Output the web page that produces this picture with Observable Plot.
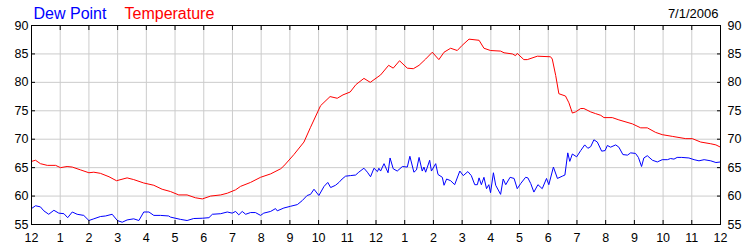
<!DOCTYPE html>
<html>
<head>
<meta charset="utf-8">
<script src="https://cdn.jsdelivr.net/npm/d3@7"></script>
<script src="https://cdn.jsdelivr.net/npm/@observablehq/plot@0.6"></script>
<style>
  html, body { margin: 0; padding: 0; background: #fff; }
  #chart svg { display: block; }
</style>
</head>
<body>
<div id="chart"></div>
<script>
// Hours after midnight (0..24) and values
const tempHours = [0,0.14,0.31,0.55,0.84,1.01,1.24,1.42,1.71,2.0,2.17,2.4,2.7,2.96,3.33,3.56,3.91,4.26,4.55,4.84,5.13,5.42,5.71,5.95,6.24,6.59,6.82,7.11,7.28,7.63,7.98,8.33,8.68,8.79,9.14,9.49,9.72,10.07,10.4,10.65,10.85,11.1,11.3,11.58,11.8,12.16,12.44,12.6,12.82,13.09,13.3,13.5,13.73,13.96,14.19,14.37,14.6,14.83,15.0,15.24,15.59,15.76,15.99,16.34,16.46,16.75,16.86,16.92,17.15,17.27,17.62,18.08,18.14,18.26,18.37,18.6,18.72,18.84,18.95,19.13,19.24,19.48,19.65,19.83,19.94,20.23,20.46,20.93,21.22,21.45,21.74,21.97,22.32,22.79,23.02,23.31,23.66,23.84,24];
const temperature = [66.1,66.3,65.7,65.4,65.4,65.0,65.2,65.1,64.6,64.1,64.2,64.0,63.4,62.7,63.2,62.9,62.3,61.9,61.2,60.8,60.2,60.2,59.7,59.5,60.0,60.2,60.5,61.1,61.7,62.4,63.3,63.9,64.8,65.3,67.3,69.5,72.1,75.9,77.5,77.2,77.8,78.3,79.6,80.7,80.0,81.3,83.0,82.5,83.8,82.5,82.4,83.0,84.1,85.3,84.0,85.3,86.0,85.6,86.5,87.6,87.4,86.0,85.6,85.5,85.2,85.0,84.7,85.1,84.0,84.0,84.6,84.5,84.1,81.2,78.0,77.6,76.4,74.6,74.8,75.4,75.4,74.8,74.5,74.2,73.8,73.8,73.4,72.7,72.0,72.0,71.2,70.8,70.5,70.1,70.1,69.5,69.2,69.0,68.6];

const dewHours = [0,0.14,0.31,0.43,0.6,0.78,0.95,1.13,1.26,1.42,1.59,1.82,2.0,2.17,2.4,2.58,2.81,2.99,3.16,3.33,3.56,3.74,3.91,4.09,4.26,4.49,4.78,4.84,5.19,5.42,5.65,5.95,6.18,6.3,6.59,6.82,6.99,7.11,7.22,7.34,7.46,7.63,7.8,7.98,8.09,8.33,8.5,8.56,8.79,9.02,9.26,9.43,9.6,9.72,9.84,10.01,10.19,10.32,10.42,10.59,10.71,10.82,10.94,11.11,11.29,11.4,11.58,11.7,11.81,11.93,12.05,12.1,12.16,12.28,12.42,12.49,12.6,12.74,12.92,13.09,13.18,13.32,13.41,13.5,13.61,13.67,13.73,13.87,13.93,14.08,14.16,14.31,14.37,14.46,14.6,14.74,14.92,15.04,15.2,15.32,15.44,15.53,15.59,15.67,15.76,15.85,15.93,15.99,16.09,16.17,16.34,16.43,16.52,16.67,16.81,16.92,17.04,17.21,17.29,17.39,17.5,17.64,17.79,17.94,18.02,18.18,18.32,18.49,18.58,18.68,18.75,18.84,18.99,19.13,19.27,19.38,19.48,19.59,19.71,19.86,19.98,20.06,20.17,20.35,20.46,20.6,20.76,20.87,21.04,21.14,21.25,21.33,21.45,21.63,21.8,21.97,22.15,22.26,22.38,22.49,22.65,22.9,23.08,23.25,23.43,23.66,23.84,24];
const dewPoint = [57.8,58.3,58.1,57.4,56.8,57.5,57.0,56.9,56.2,57.2,56.8,56.6,55.7,56.0,56.4,56.5,56.8,55.7,55.4,55.8,56.0,55.7,57.2,57.2,56.6,56.6,56.5,56.3,55.9,55.7,56.05,56.1,56.2,56.8,56.9,57.2,57.0,57.3,56.7,57.3,56.8,57.1,57.1,56.6,57.0,57.3,57.8,57.4,57.9,58.2,58.5,59.2,60.1,60.3,61.2,60.1,61.7,62.4,61.5,61.9,62.4,63.0,63.5,63.6,63.7,64.2,64.9,64.2,63.4,64.9,64.3,64.9,64.4,65.7,64.1,66.7,64.8,64.4,65.2,65.1,67.0,64.2,64.6,66.8,64.4,65.1,64.2,66.3,64.4,65.7,63.8,63.3,61.9,63.0,62.7,62.0,64.4,63.6,64.3,63.6,62.0,62.0,63.2,62.0,63.3,61.3,62.0,60.6,64.1,61.9,60.3,63.0,62.0,63.3,63.1,61.3,62.2,63.3,63.2,62.2,60.7,62.0,61.3,63.1,62.0,65.1,63.1,63.5,63.7,67.6,66.1,67.4,66.9,68.0,69.0,68.4,68.7,69.9,69.5,67.9,68.0,68.9,68.6,69.0,68.6,67.3,67.2,67.6,67.5,66.8,65.2,66.7,67.1,66.3,66.0,66.4,66.4,66.6,66.5,66.8,66.8,66.7,66.4,66.2,66.4,66.2,65.9,66.0];

const xTickHours = [0,1,2,3,4,5,6,7,8,9,10,11,12,13,14,15,16,17,18,19,20,21,22,23,24];
const xTickLabels = ["12","1","2","3","4","5","6","7","8","9","10","11","12","1","2","3","4","5","6","7","8","9","10","11","12"];
const yTicks = [55,60,65,70,75,80,85,90];
const seriesNames = ["Dew Point", "Temperature"];
const dateLabel = "7/1/2006";

const tempData = tempHours.map((h, i) => ({h, v: temperature[i]}));
const dewData = dewHours.map((h, i) => ({h, v: dewPoint[i]}));
const fmtX = d => xTickLabels[xTickHours.indexOf(d)];

const font = "'Liberation Sans', Arial, sans-serif";

const chart = Plot.plot({
  width: 750,
  height: 250,
  marginLeft: 31,
  marginRight: 30,
  marginTop: 25,
  marginBottom: 26,
  style: {fontFamily: font, fontSize: "12px", background: "#fff", color: "#000"},
  x: {domain: [0, 24]},
  y: {domain: [55, 90]},
  marks: [
    Plot.gridX(xTickHours, {stroke: "#cccccc", strokeOpacity: 1}),
    Plot.gridY(yTicks, {stroke: "#cccccc", strokeOpacity: 1}),
    Plot.line(dewData, {x: "h", y: "v", stroke: "#0000ff", strokeWidth: 1}),
    Plot.line(tempData, {x: "h", y: "v", stroke: "#ff0000", strokeWidth: 1}),
    Plot.frame({stroke: "#000"}),
    Plot.axisX(xTickHours, {anchor: "bottom", tickSize: -4, tickPadding: 13, tickFormat: fmtX, label: null, fontSize: 12.5}),
    Plot.axisX(xTickHours, {anchor: "top", tickSize: -4, tickFormat: () => "", label: null}),
    Plot.axisY(yTicks, {anchor: "left", tickSize: -4, tickPadding: 7, label: null, fontSize: 12.5}),
    Plot.axisY(yTicks, {anchor: "right", tickSize: -4, tickPadding: 11, label: null, textAnchor: "start", fontSize: 12.5}),
    Plot.text([seriesNames[0]], {frameAnchor: "top-left", text: d => d, lineAnchor: "bottom", dy: -7, dx: 2, fill: "#0000ff", fontSize: 16, textAnchor: "start"}),
    Plot.text([seriesNames[1]], {frameAnchor: "top-left", text: d => d, lineAnchor: "bottom", dy: -7, dx: 93, fill: "#ff0000", fontSize: 16, textAnchor: "start"}),
    Plot.text([dateLabel], {frameAnchor: "top-right", text: d => d, lineAnchor: "bottom", dy: -8, dx: -2, fill: "#000", fontSize: 13, textAnchor: "end"})
  ]
});
document.getElementById("chart").appendChild(chart);
</script>
</body>
</html>
